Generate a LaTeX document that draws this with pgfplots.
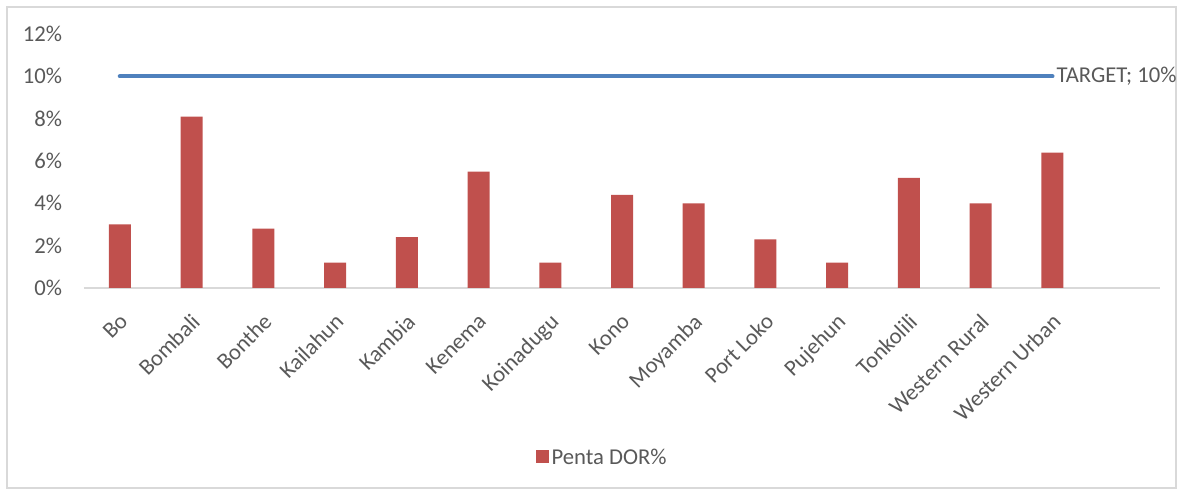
\documentclass[border=0pt]{standalone}
\usepackage{fontspec}
\setmainfont{Carlito}
\usepackage{pgfplots}
\pgfplotsset{compat=1.18}
\definecolor{barred}{HTML}{C0504D}
\definecolor{lineblue}{HTML}{4F81BD}
\definecolor{txtgray}{HTML}{595959}
\definecolor{axgray}{HTML}{D9D9D9}
\begin{document}
\begin{tikzpicture}[x=1pt,y=1pt]
\useasboundingbox (-63,-152.25) rectangle (825,216);
\draw[axgray,line width=0.9pt] (-57.75,210.75) rectangle (819,-150);
\begin{axis}[
  at={(0,0)}, anchor=south west,
  scale only axis,
  width=807pt, height=190.5pt,
  xmin=-0.5, xmax=14.5,
  ymin=0, ymax=12,
  xtick={0,...,13},
  xticklabels={Bo,Bombali,Bonthe,Kailahun,Kambia,Kenema,Koinadugu,Kono,Moyamba,Port Loko,Pujehun,Tonkolili,Western Rural,Western Urban},
  x tick label style={rotate=45, anchor=north east, font=\fontsize{17}{19}\selectfont, text=txtgray, inner sep=1pt, yshift=-11pt, xshift=-12.5pt},
  ytick={0,2,...,12},
  yticklabel={\pgfmathprintnumber{\tick}\%},
  y tick label style={font=\fontsize{17}{19}\selectfont, text=txtgray, xshift=-13pt},
  /pgf/number format/assume math mode=true,
  major tick length=0pt,
  axis x line*=bottom,
  axis y line*=left,
  y axis line style={draw=none},
  x axis line style={axgray, line width=1.5pt, -},
  legend style={at={(0.482,-0.669)}, anchor=center, draw=none, font=\fontsize{17}{19}\selectfont, text=txtgray},
  legend image code/.code={\fill[barred] (0cm,-0.14cm) rectangle (0.34cm,0.2cm);},
  clip=false,
]
\addplot[ybar, bar width=16.5pt, fill=barred, draw=none] coordinates {
 (0,3.0) (1,8.1) (2,2.8) (3,1.2) (4,2.4) (5,5.5) (6,1.2) (7,4.4) (8,4.0) (9,2.3) (10,1.2) (11,5.2) (12,4.0) (13,6.4)
};
\addlegendentry{Penta DOR\%}
\addplot[lineblue, line width=3.2pt, line cap=round, forget plot] coordinates {
 (0,10) (1,10) (2,10) (3,10) (4,10) (5,10) (6,10) (7,10) (8,10) (9,10) (10,10) (11,10) (12,10) (13,10)
} node[pos=1, anchor=west, inner sep=1.5pt, font=\fontsize{17}{19}\selectfont, text=txtgray] {TARGET; 10\%};
\end{axis}
\end{tikzpicture}
\end{document}
